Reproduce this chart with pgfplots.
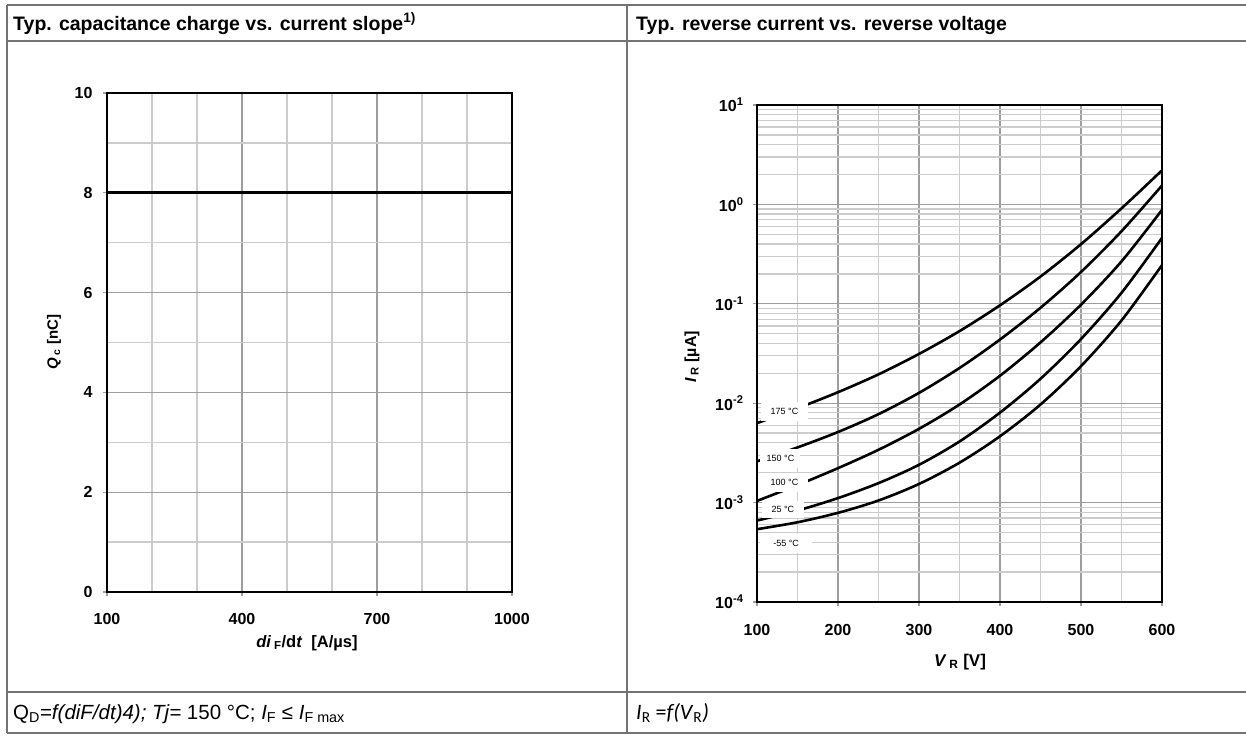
\documentclass[border=0pt]{standalone}
\usepackage{fontspec}
\setmainfont{Liberation Sans}
\newfontfamily\calibri{Carlito}
\usepackage{pgfplots}
\pgfplotsset{compat=1.18}
\definecolor{majgrid}{gray}{0.62}
\definecolor{mingrid}{gray}{0.80}
\definecolor{rule}{gray}{0.45}

\pgfplotsset{
  dsheet/.style={
    scale only axis, anchor=south west,
    axis line style={black, line width=1.7bp},
    grid=both,
    major grid style={majgrid, line width=1.3bp},
    minor grid style={mingrid, line width=1.3bp},
    tick pos=left,
    tick align=outside, major tick length=4bp, minor tick length=0bp,
    tick style={majgrid, line width=1.3bp},
    tick label style={font=\fontsize{16bp}{18bp}\selectfont\bfseries},
    /pgf/number format/assume math mode=true,
    /pgf/number format/1000 sep={},
  }
}

\begin{document}
\begin{tikzpicture}
\path[use as bounding box] (0bp,0bp) rectangle (1246bp,740bp);

% table rules
\draw[rule, line width=1.3bp] (7bp,735bp) -- (1246bp,735bp);
\draw[rule, line width=2.2bp] (7bp,699bp) -- (1246bp,699bp);
\draw[rule, line width=1.6bp] (7bp,48bp) -- (1246bp,48bp);
\draw[rule, line width=1.6bp] (7bp,7bp) -- (1246bp,7bp);
\draw[rule, line width=1.3bp] (7bp,735bp) -- (7bp,7bp);
\draw[rule, line width=1.3bp] (627bp,735bp) -- (627bp,7bp);

% headers
\node[anchor=base west, inner sep=0] at (13bp,709.5bp)
  {\fontsize{19.5bp}{22bp}\selectfont\bfseries Typ. capacitance charge vs. current slope\textsuperscript{1)}};
\node[anchor=base west, inner sep=0] at (636bp,709.5bp)
  {\fontsize{19.5bp}{22bp}\selectfont\bfseries Typ. reverse current vs. reverse voltage};

% captions
\node[anchor=base west, inner sep=0] at (13bp,21bp)
  {\fontsize{20.5bp}{23bp}\selectfont Q\textsubscript{D}=\textit{f(diF/dt)4); Tj=} 150 °C; \textit{I}\textsubscript{F} ≤ \textit{I}\textsubscript{F max}};
\node[anchor=base west, inner sep=0] at (636bp,21bp)
  {\calibri\fontsize{22bp}{25bp}\selectfont \textit{I}\textsubscript{R} =\textit{f(V}\textsubscript{R}\textit{)}};

% left chart
\begin{axis}[dsheet, at={(107bp,148bp)}, width=405bp, height=499bp,
  xmin=100, xmax=1000, ymin=0, ymax=10,
  xtick={100,400,700,1000}, minor xtick={200,300,500,600,800,900},
  ytick={0,2,4,6,8,10}, minor ytick={1,3,5,7,9},
  xticklabel style={yshift=-14bp}, yticklabel style={xshift=-7bp},
]
\addplot[black, line width=2.8bp] coordinates {(100,8) (1000,8)};
\end{axis}
\node[rotate=90, inner sep=0] at (54bp,398bp)
  {\fontsize{15bp}{17bp}\selectfont\bfseries\textit{Q}\,\textsubscript{c} [nC]};
\node[inner sep=0] at (307bp,97bp)
  {\fontsize{16.5bp}{19bp}\selectfont\bfseries\textit{di}\,\textsubscript{F}/d\textit{t}\ \ [A/µs]};

% right chart
\begin{axis}[dsheet, at={(757bp,138bp)}, width=405bp, height=497bp,
  ymode=log, xmin=100, xmax=600, ymin=1e-4, ymax=10,
  xtick={100,200,300,400,500,600}, minor xtick={150,250,350,450,550},
  ytick={1e-4,1e-3,1e-2,1e-1,1,10},
  yticklabels={10\textsuperscript{-4},10\textsuperscript{-3},10\textsuperscript{-2},10\textsuperscript{-1},10\textsuperscript{0},10\textsuperscript{1}},
  minor ytick={2e-4,3e-4,4e-4,5e-4,6e-4,7e-4,8e-4,9e-4,
               2e-3,3e-3,4e-3,5e-3,6e-3,7e-3,8e-3,9e-3,
               2e-2,3e-2,4e-2,5e-2,6e-2,7e-2,8e-2,9e-2,
               0.2,0.3,0.4,0.5,0.6,0.7,0.8,0.9,
               2,3,4,5,6,7,8,9},
  xticklabel style={yshift=-15bp}, yticklabel style={xshift=-6bp},
]
% 175 C
\addplot[black, line width=2.6bp, smooth] coordinates {
  (100,0.0063) (150,0.0089) (200,0.0129) (250,0.0195) (300,0.0313)
  (350,0.0531) (400,0.0966) (450,0.188) (500,0.398) (550,0.912) (600,2.2)};
% 150 C
\addplot[black, line width=2.6bp, smooth] coordinates {
  (100,0.0026) (150,0.00359) (200,0.00513) (250,0.00776) (300,0.0127)
  (350,0.0226) (400,0.0437) (450,0.0912) (500,0.209) (550,0.537) (600,1.55)};
% 100 C
\addplot[black, line width=2.6bp, smooth] coordinates {
  (100,0.00104) (150,0.0015) (200,0.00222) (250,0.0034) (300,0.00552)
  (350,0.0097) (400,0.0189) (450,0.0409) (500,0.098) (550,0.267) (600,0.88)};
% 25 C
\addplot[black, line width=2.6bp, smooth] coordinates {
  (100,0.00066) (150,0.000832) (200,0.00111) (250,0.00157) (300,0.0024)
  (350,0.00412) (400,0.00804) (450,0.0176) (500,0.0442) (550,0.129) (600,0.46)};
% -55 C
\addplot[black, line width=2.6bp, smooth] coordinates {
  (100,0.00054) (150,0.000634) (200,0.000789) (250,0.00105) (300,0.00154)
  (350,0.00252) (400,0.00465) (450,0.0097) (500,0.0236) (550,0.068) (600,0.245)};
% temperature labels
\tikzset{tlab/.style={fill=white, inner sep=0, minimum height=19bp,
  font=\fontsize{9bp}{10bp}\selectfont}}
\node[tlab, minimum width=47bp] at (axis cs:134,0.0082) {175 °C};
\node[tlab, minimum width=40bp] at (axis cs:129,0.0028) {150 °C};
\node[tlab, minimum width=47bp] at (axis cs:134,0.00161) {100 °C};
\node[tlab, minimum width=42bp, minimum height=17bp] at (axis cs:132,0.00086) {25 °C};
\node[tlab, minimum width=52bp] at (axis cs:136,0.00039) {-55 °C};
\end{axis}
\node[rotate=90, inner sep=0] at (692bp,383bp)
  {\fontsize{16bp}{18bp}\selectfont\bfseries\textit{I}\,\textsubscript{R} [µA]};
\node[inner sep=0] at (960bp,78bp)
  {\fontsize{17bp}{19bp}\selectfont\bfseries\textit{V}\,\textsubscript{R} [V]};
\end{tikzpicture}
\end{document}
